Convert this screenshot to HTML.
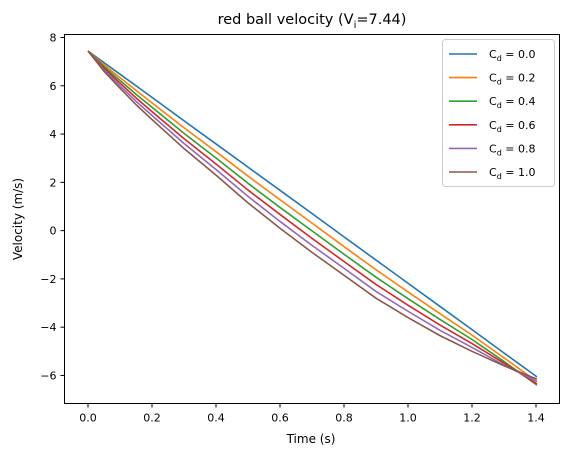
<!DOCTYPE html>
<html><head><meta charset="utf-8"><style>
body{margin:0;background:#fff;}
svg{display:block;font-family:"DejaVu Sans","Liberation Sans",sans-serif;}
</style></head><body>
<svg id="chart" width="573" height="457">
<text x="312" y="24" text-anchor="middle" font-size="14.5">red ball velocity (V<tspan font-size="10" dy="4">i</tspan><tspan dy="-4">=7.44)</tspan></text>
<g id="plot"></g>
<text x="311" y="443" text-anchor="middle" font-size="12">Time (s)</text>
<text transform="translate(22,219) rotate(-90)" text-anchor="middle" font-size="12">Velocity (m/s)</text>
</svg>
<script>
const times=[0,0.05,0.1,0.15,0.2,0.3,0.4,0.5,0.6,0.7,0.8,0.9,1.0,1.1,1.2,1.3,1.403];
const cdLabels=["0.0","0.2","0.4","0.6","0.8","1.0"];
const colors=["#1f77b4","#ff7f0e","#2ca02c","#d62728","#9467bd","#8c564b"];
const vCd00=[7.44,6.96,6.48,6.00,5.52,4.55,3.59,2.63,1.67,0.71,-0.26,-1.22,-2.18,-3.14,-4.10,-5.07,-6.06];
const vCd02=[7.44,6.87,6.34,5.81,5.29,4.26,3.27,2.26,1.28,0.31,-0.66,-1.62,-2.54,-3.44,-4.33,-5.27,-6.25];
const vCd04=[7.44,6.80,6.22,5.65,5.11,4.03,3.01,1.96,0.96,-0.01,-0.98,-1.93,-2.82,-3.68,-4.51,-5.42,-6.40];
const vCd06=[7.44,6.73,6.11,5.50,4.93,3.81,2.76,1.68,0.67,-0.32,-1.28,-2.23,-3.09,-3.91,-4.68,-5.49,-6.35];
const vCd08=[7.44,6.66,6.00,5.36,4.77,3.61,2.53,1.42,0.38,-0.61,-1.56,-2.52,-3.34,-4.13,-4.84,-5.57,-6.25];
const vCd10=[7.44,6.60,5.90,5.22,4.60,3.40,2.30,1.15,0.10,-0.90,-1.85,-2.80,-3.60,-4.35,-5.00,-5.60,-6.15];
const series=[vCd00,vCd02,vCd04,vCd06,vCd08,vCd10];
const xTicks=[0,0.2,0.4,0.6,0.8,1.0,1.2,1.4];
const yTicks=[-6,-4,-2,0,2,4,6,8];
const L=64.5,R=559.5,T=34.5,B=403.5;
const xs=t=>88+t*320;
const ys=v=>37.5+(8-v)*24.14;
const ns="http://www.w3.org/2000/svg";
const g=document.getElementById("plot");
function mk(tag,attrs){const e=document.createElementNS(ns,tag);for(const k in attrs)e.setAttribute(k,attrs[k]);g.appendChild(e);return e;}
series.forEach((s,i)=>{
  const p=mk("polyline",{points:s.map((v,j)=>xs(times[j])+","+ys(v)).join(" "),fill:"none",stroke:colors[i],"stroke-width":1.6,"stroke-linejoin":"round"});
  
  
});
const fr=mk("rect",{x:L,y:T,width:R-L,height:B-T,fill:"none",stroke:"#000","stroke-width":1});


xTicks.forEach(t=>{
  const x=xs(t);
  const tk=mk("line",{x1:x,x2:x,y1:B,y2:B+4,stroke:"#000"});
  
  
  const lb=mk("text",{x:x,y:B+18,"text-anchor":"middle","font-size":11});
  lb.textContent=t.toFixed(1);
  
  
});
yTicks.forEach(v=>{
  const y=ys(v);
  const tk=mk("line",{x1:L-4,x2:L,y1:y,y2:y,stroke:"#000"});
  
  
  const lb=mk("text",{x:L-8,y:y+4,"text-anchor":"end","font-size":11});
  lb.textContent=(v<0?"\u2212"+(-v):String(v));
  
  
});
const lg=mk("rect",{x:442.5,y:39.5,width:112,height:147,rx:3,fill:"#fff","fill-opacity":0.8,stroke:"#ccc"});


cdLabels.forEach((c,i)=>{
  const y=54+i*23.6;
  const ln=mk("line",{x1:449,x2:477,y1:y,y2:y,stroke:colors[i],"stroke-width":1.6});
  
  
  const tx=mk("text",{x:489,y:y+4,"font-size":11});
  tx.innerHTML='C<tspan font-size="8" dy="3">d</tspan><tspan dy="-3"> = '+c+'</tspan>';
  
  
});
</script>
</body></html>
